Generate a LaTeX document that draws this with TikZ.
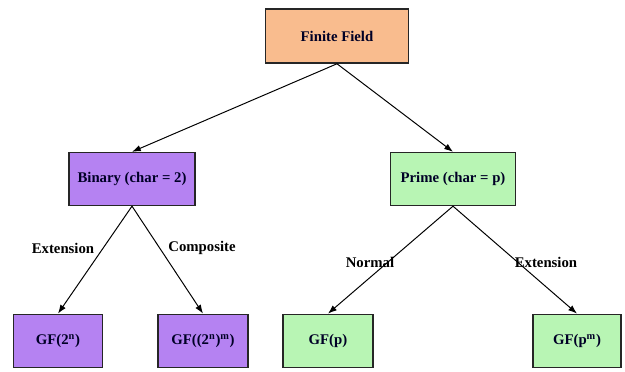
\documentclass[tikz,border=0pt]{standalone}
\usepackage{fontspec}
\setmainfont{Liberation Serif}
\usetikzlibrary{arrows.meta}
\usetikzlibrary{positioning}
\definecolor{rootfill}{HTML}{F9BC8E}
\definecolor{binfill}{HTML}{B582F2}
\definecolor{primefill}{HTML}{B8F5B4}
\tikzset{
    field/.style = {draw=black!85,line width=1.1pt,
        font=\fontsize{10.5}{12}\selectfont\bfseries,text=black!85!blue},
    branch/.style = {-{Latex[length=2.2mm,width=1.6mm]},line width=0.7pt},
    edgelbl/.style = {font=\fontsize{10.5}{12}\selectfont\bfseries}
}

\begin{document}
\begin{tikzpicture}[x=0.025cm,y=-0.025cm]
    \useasboundingbox (0,0) rectangle (625,372);
    % Root
    \node[field,fill=rootfill,minimum width=3.58cm,minimum height=1.35cm] (ff) at (337,36) {Finite Field};
    % Characteristic
    \node[field,fill=binfill,minimum width=3.15cm,minimum height=1.32cm] (bin) at (132,179) {Binary (char = 2)};
    \node[field,fill=primefill,minimum width=3.13cm,minimum height=1.32cm] (prime) at (453,179) {Prime (char = p)};
    % Fields
    \node[field,fill=binfill,minimum width=2.23cm,minimum height=1.33cm] (gftwo) at (58,341) {GF(2\textsuperscript{n})};
    \node[field,fill=binfill,minimum width=2.25cm,minimum height=1.33cm] (gfcomp) at (203,341) {GF((2\textsuperscript{n})\textsuperscript{m})};
    \node[field,fill=primefill,minimum width=2.25cm,minimum height=1.33cm] (gfp) at (328,341) {GF(p)};
    \node[field,fill=primefill,minimum width=2.2cm,minimum height=1.33cm] (gfpm) at (577,341) {GF(p\textsuperscript{m})};
    % Branches
    \foreach \src/\dest in {ff/bin,ff/prime,bin/gftwo,bin/gfcomp,prime/gfp,prime/gfpm}
        \draw[branch] (\src.south) to (\dest.north);
    % Labels
    \node[edgelbl] (lext) at (63,248) {Extension};
    \node[edgelbl] (lcomp) at (202,248) {Composite};
    \node[edgelbl] (lnorm) at (370,262) {Normal};
    \node[edgelbl] (lpext) at (546,262) {Extension};
\end{tikzpicture}
\end{document}
